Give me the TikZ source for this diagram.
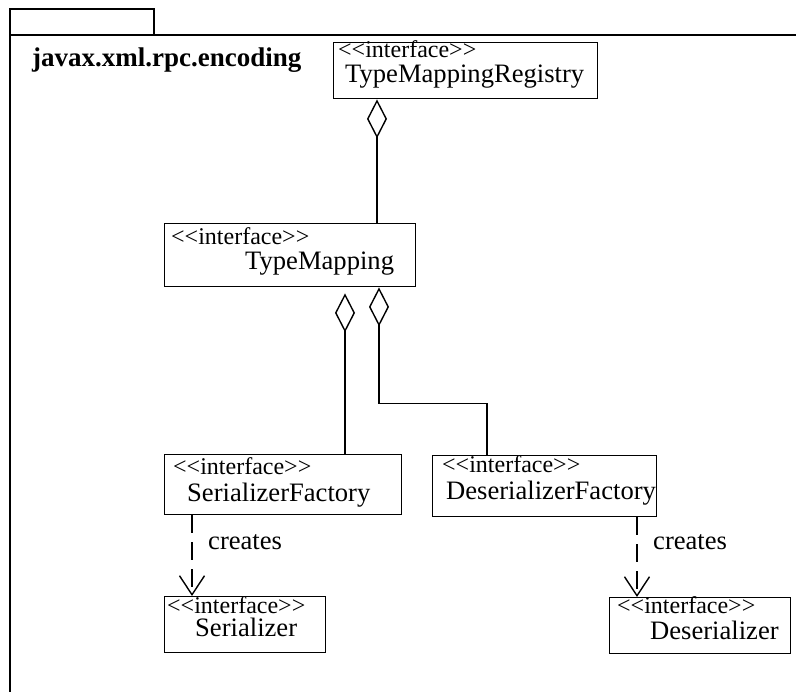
\documentclass[tikz,border=0pt]{standalone}
\usepackage{fontspec}
\setmainfont{Liberation Serif}
\usetikzlibrary{arrows.meta}

% guillemet-free stereotype marker
\newcommand{\ifacestereo}{{<}{<}interface{>}{>}}

\tikzset{
  umlbox/.style={draw, line width=1.4pt, rectangle, inner sep=0pt, anchor=north west},
  stereo/.style={anchor=base west, inner sep=0pt, font=\fontsize{24}{26}\selectfont},
  cname/.style={anchor=base west, inner sep=0pt, font=\fontsize{26.6}{30}\selectfont},
  agg/.style={line width=1.4pt, {Diamond[open, length=39pt, width=20pt, line width=1.4pt]}-},
  dep/.style={line width=1.4pt, dash pattern=on 18pt off 9pt,
    -{Straight Barb[length=19pt, width=25pt, line width=1.4pt]}},
  frameline/.style={line width=1.6pt}
}

\begin{document}
\begin{tikzpicture}[x=1pt, y=-1pt]
\useasboundingbox (0,0) rectangle (796,692);

% package frame and tab
\draw[frameline] (796,35) -- (10,35) -- (10,692);
\draw[frameline] (10,35) rectangle (154,9);
\node[anchor=base west, inner sep=0pt, font=\fontsize{27}{30}\selectfont\bfseries] (pkg) at (32,67) {javax.xml.rpc.encoding};

% classes
\node[umlbox, minimum width=264pt, minimum height=56pt] (reg) at (333,42) {};
\node[stereo] (reg-st) at (338,58) {\ifacestereo};
\node[cname]  (reg-nm) at (345,83) {TypeMappingRegistry};

\node[umlbox, minimum width=251pt, minimum height=63pt] (tm) at (164,223) {};
\node[stereo] (tm-st) at (171,245) {\ifacestereo};
\node[cname]  (tm-nm) at (245,270) {TypeMapping};

\node[umlbox, minimum width=237pt, minimum height=60pt] (sf) at (164,454) {};
\node[stereo] (sf-st) at (173,475) {\ifacestereo};
\node[cname]  (sf-nm) at (187,502) {SerializerFactory};

\node[umlbox, minimum width=224pt, minimum height=61pt] (dsf) at (432,455) {};
\node[stereo] (dsf-st) at (442,473) {\ifacestereo};
\node[cname]  (dsf-nm) at (446,500) {DeserializerFactory};

\node[umlbox, minimum width=161pt, minimum height=56pt] (ser) at (164,596) {};
\node[stereo] (ser-st) at (167,614) {\ifacestereo};
\node[cname]  (ser-nm) at (195,637) {Serializer};

\node[umlbox, minimum width=181pt, minimum height=56pt] (des) at (609,597) {};
\node[stereo] (des-st) at (617,614) {\ifacestereo};
\node[cname]  (des-nm) at (650,639) {Deserializer};

% aggregations
\draw[agg] ([xshift=44pt]reg.south west) -- ([xshift=213pt]tm.north west);
\draw[agg] ([xshift=181pt,yshift=-6pt]tm.south west) -- ([xshift=181pt]sf.north west);
\draw[agg] ([xshift=215pt]tm.south west) -- ++(0,116) -| ([xshift=55pt]dsf.north west);

% creation dependencies
\draw[dep] ([xshift=28pt]sf.south west) -- ([xshift=28pt]ser.north west);
\node[cname] (cr1) at (208,550) {creates};
\draw[dep] ([xshift=205pt]dsf.south west) -- ([xshift=28pt]des.north west);
\node[cname] (cr2) at (653,550) {creates};
\end{tikzpicture}
\end{document}
